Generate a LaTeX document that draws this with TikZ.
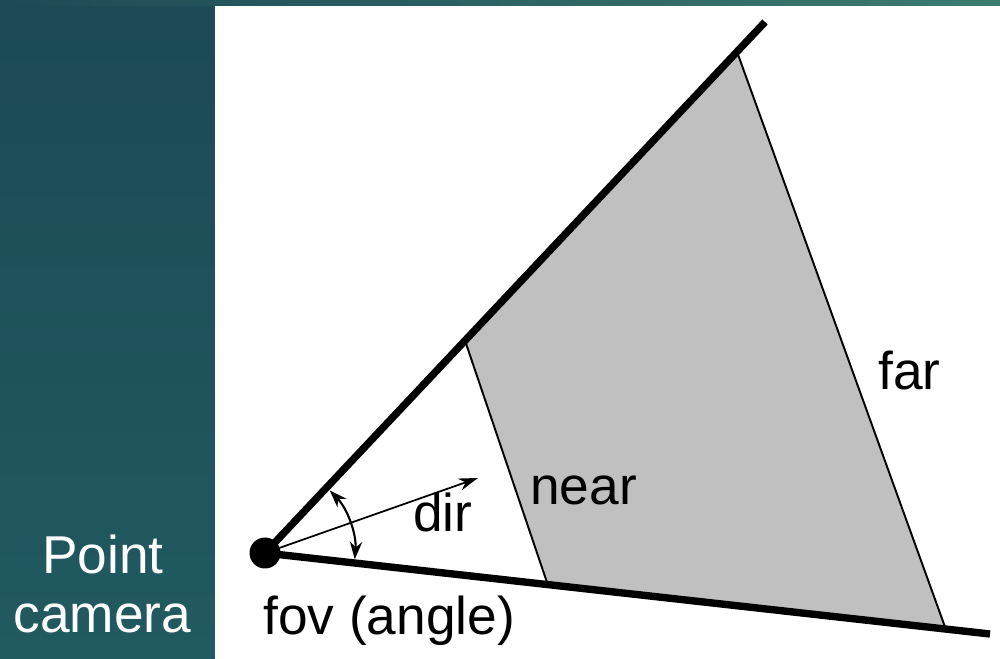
\documentclass[tikz,border=0pt]{standalone}
\usepackage{fontspec}
\setmainfont{Liberation Sans}
\usetikzlibrary{calc,arrows.meta}
\definecolor{panelA}{HTML}{1C4A57}
\definecolor{panelB}{HTML}{215A60}
\definecolor{stripR}{HTML}{3D7B6F}
\definecolor{frustum}{HTML}{C0C0C0}
\tikzset{
  ray/.style={line width=4.2pt},
  plane/.style={line width=1.1pt},
  lbl/.style={inner sep=0pt, anchor=base west, font=\fontsize{30.3}{36}\selectfont},
  sidelbl/.style={inner sep=0pt, anchor=base, text=white, font=\fontsize{30.3}{36}\selectfont},
  thinarrow/.style={line width=1pt, -{Stealth[length=11pt,width=7pt]}},
  fovarrow/.style={line width=1.2pt, {Stealth[length=10pt,width=7pt]}-{Stealth[length=10pt,width=7pt]}}
}
\begin{document}
\begin{tikzpicture}
\useasboundingbox (0,0) rectangle (20,13.16);
% background
\shade[top color=panelA, bottom color=panelB] (0,0) rectangle (4.30,13.16);
\fill[white] (4.30,0) rectangle (20,13.04);
\shade[left color=panelA, right color=stripR] (0,13.04) rectangle (20,13.16);
% geometry
\node[circle, fill=black, minimum size=0.62cm, inner sep=0pt] (cam) at (5.30,2.10) {};
\coordinate (uend) at (15.30,12.72);
\coordinate (lend) at (19.80,0.48);
\coordinate (nt) at ($(cam.center)!0.40!(uend)$);
\coordinate (nb) at ($(cam.center)!0.39!(lend)$);
\coordinate (ft) at ($(cam.center)!0.944!(uend)$);
\coordinate (fb) at ($(cam.center)!0.939!(lend)$);
\fill[frustum] (nt) -- (ft) -- (fb) -- (nb) -- cycle;
\draw[plane] (nt) -- (nb);
\draw[plane] (ft) -- (fb);
\draw[ray] (cam.center) -- (uend);
\draw[ray] (cam.center) -- (lend);
\coordinate (dirend) at (9.56,3.60);
\draw[thinarrow] (cam.center) -- (dirend);
\draw[fovarrow] ($(cam.center)+(44:1.8)$) arc[start angle=44, end angle=-4, radius=1.8];
% labels
\node[sidelbl] (pt) at (2.06,1.70) {Point};
\node[sidelbl] (cm) at (2.05,0.52) {camera};
\node[lbl] (fov) at (5.26,0.46) {fov (angle)};
\node[lbl] (dir) at (8.26,2.52) {dir};
\node[lbl] (near) at (10.60,3.06) {near};
\node[lbl] (far) at (17.56,5.36) {far};
\end{tikzpicture}
\end{document}
